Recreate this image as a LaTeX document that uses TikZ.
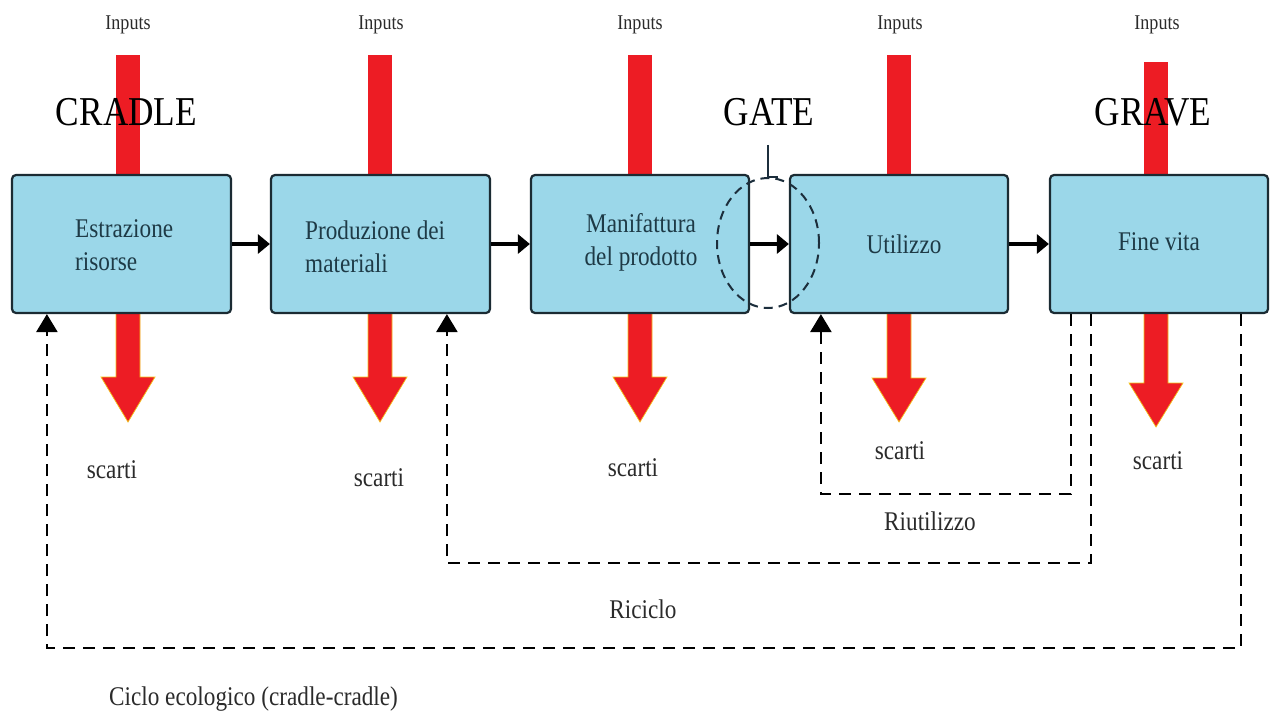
\documentclass[tikz,border=0pt]{standalone}
\usepackage{fontspec}
\setmainfont[FakeStretch=0.86]{Liberation Serif}
\usetikzlibrary{arrows.meta,calc,shapes.geometric}

\definecolor{boxfill}{HTML}{9BD7E9}
\definecolor{boxline}{HTML}{1B2B33}
\definecolor{flowred}{HTML}{ED1C24}
\definecolor{rimyellow}{HTML}{F2C21A}
\definecolor{boxtext}{HTML}{1E3A46}
\definecolor{labeltext}{HTML}{2B2B2B}
\definecolor{gateline}{HTML}{1C2E3C}

\tikzset{
  stage/.style={draw=boxline, fill=boxfill, line width=2.2pt, rounded corners=4pt,
                minimum width=219pt, minimum height=138pt, inner sep=0pt},
  stagetext/.style={text=boxtext, font=\fontsize{27}{33}\selectfont, inner sep=0pt},
  inlabel/.style={text=labeltext, font=\fontsize{21}{25}\selectfont, inner sep=0pt, anchor=base},
  wastelabel/.style={text=labeltext, font=\fontsize{27}{33}\selectfont, inner sep=0pt, anchor=base},
  phase/.style={text=black, font=\fontsize{41}{48}\selectfont, inner sep=0pt, anchor=base},
  flow/.style={line width=3.8pt, -{Triangle[length=12pt,width=19pt]}},
  loopline/.style={line width=2.6pt, dash pattern=on 12pt off 8pt,
                   -{Triangle[length=18pt,width=21pt]}},
  inbar/.style={fill=flowred},
  waste/.style={fill=flowred, draw=rimyellow, line width=0.7pt, line join=miter},
}

\begin{document}
\begin{tikzpicture}[x=1pt,y=-1pt]
\useasboundingbox[fill=white] (0,0) rectangle (1273,714);

% input bars entering each stage from above
\foreach \cx/\top in {128/55, 380/55, 640/55, 899/55, 1156/62}
  \fill[inbar] (\cx-12,\top) rectangle (\cx+12,180);

% waste arrows leaving each stage downwards
\foreach \cx/\hy/\ty in {128/377/422, 380/377/422, 640/377/422, 899/378/422, 1156/383/427}
  \filldraw[waste] (\cx-12,308) -- (\cx-12,\hy) -- (\cx-27,\hy) -- (\cx,\ty)
                   -- (\cx+27,\hy) -- (\cx+12,\hy) -- (\cx+12,308) -- cycle;

% phase headings
\node[phase] (cradle) at (126.5,126) {CRADLE};
\node[phase] (gatelbl) at (769,126) {GATE};
\node[phase] (grave) at (1153,126) {GRAVE};

% input labels
\node[inlabel] (in1) at (128,30) {Inputs};
\node[inlabel] (in2) at (381,30) {Inputs};
\node[inlabel] (in3) at (640,30) {Inputs};
\node[inlabel] (in4) at (900,30) {Inputs};
\node[inlabel] (in5) at (1157,30) {Inputs};

% life-cycle stages
\node[stage] (b1) at (121.5,244) {};
\node[stage] (b2) at (380.5,244) {};
\node[stage, minimum width=218pt] (b3) at (640,244) {};
\node[stage, minimum width=218pt] (b4) at (899,244) {};
\node[stage, minimum width=218pt] (b5) at (1159,244) {};

\node[stagetext, align=left, anchor=west] (t1) at (75,245) {Estrazione\\risorse};
\node[stagetext, align=left, anchor=west] (t2) at (305,247) {Produzione dei\\materiali};
\node[stagetext, align=center] (t3) at (641,242) {Manifattura\\del prodotto};
\node[stagetext, anchor=base] (t4) at (904,253) {Utilizzo};
\node[stagetext, anchor=base] (t5) at (1159,250) {Fine vita};

% forward flow between stages
\draw[flow] (b1.east) -- (b2.west);
\draw[flow] (b2.east) -- (b3.west);
\draw[flow] (b3.east) -- (b4.west);
\draw[flow] (b4.east) -- (b5.west);

% gate marker
\node[draw=gateline, line width=2pt, dash pattern=on 9pt off 6pt, ellipse,
      minimum width=102pt, minimum height=130pt, inner sep=0pt] (gate) at (768,243) {};
\draw[gateline, line width=1.6pt] ($(gatelbl.base)+(-1,19)$) |- ($(gate.north)+(10,0)$);

% waste labels
\node[wastelabel] (w1) at (112,478) {scarti};
\node[wastelabel] (w2) at (379,486) {scarti};
\node[wastelabel] (w3) at (633,476) {scarti};
\node[wastelabel] (w4) at (900,459) {scarti};
\node[wastelabel] (w5) at (1158,469) {scarti};

% return loops from end of life
\draw[loopline] ([xshift=22pt]b5.south west) -- ++(0,180) -| ([xshift=32pt]b4.south west);
\draw[loopline] ([xshift=42pt]b5.south west) -- ++(0,249) -| ([xshift=177pt]b2.south west);
\draw[loopline] ([xshift=192pt]b5.south west) -- ++(0,334) -| ([xshift=36pt]b1.south west);

\node[wastelabel] (reuse) at (930,530) {Riutilizzo};
\node[wastelabel] (recycle) at (643,618) {Riciclo};
\node[wastelabel] (eco) at (253.5,705) {Ciclo ecologico (cradle-cradle)};
\end{tikzpicture}
\end{document}
